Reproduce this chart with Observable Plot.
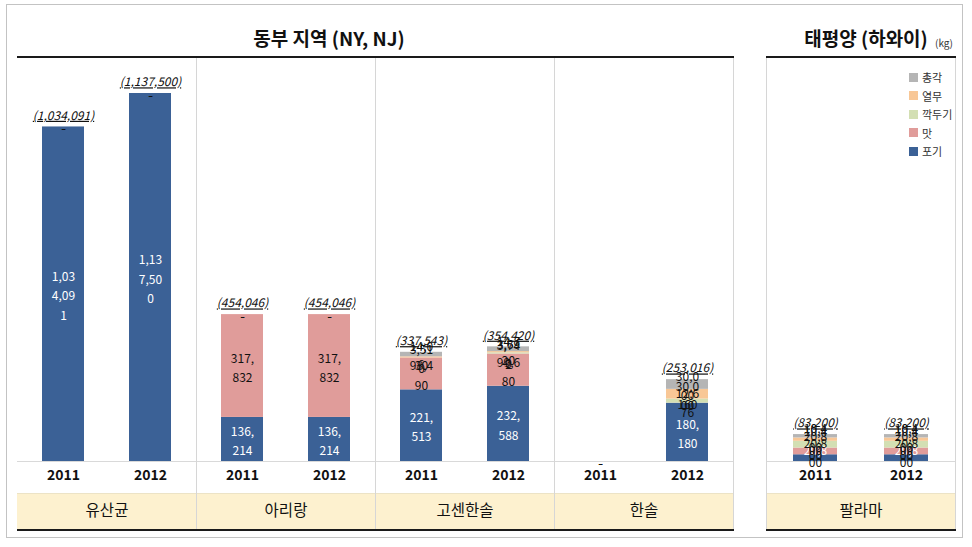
<!DOCTYPE html>
<html>
<head>
<meta charset="utf-8">
<script src="https://cdn.jsdelivr.net/npm/d3@7"></script>
<script src="https://cdn.jsdelivr.net/npm/@observablehq/plot@0.6"></script>
<style>
  html, body { margin: 0; padding: 0; background: #fff; }
  #root { position: relative; width: 972px; height: 547px; overflow: hidden; background: #fff;
          font-family: 'Noto Sans CJK KR', 'Noto Sans', sans-serif; }
  .abs { position: absolute; }
  .frame { left: 6px; top: 4px; width: 957px; height: 534px; border: 1px solid #c3c3c3; box-sizing: border-box; }
  .thick { height: 2px; background: #1a1a1a; }
  .band { background: #fdf1cf; border-top: 1px solid #ece3c6; box-sizing: border-box; }
  .vsep { width: 1px; background: #d6d6d6; }
  .title { font-weight: bold; font-size: 19px; color: #111; white-space: nowrap; transform: translate(-50%, -50%); }
  .kg { font-size: 10px; color: #333; }
  .leg { font-size: 11px; color: #333; white-space: nowrap; display: flex; align-items: center; }
  .leg span.sw { display: inline-block; width: 9px; height: 9px; margin-right: 4px; }
  text.total-label { text-decoration: underline; }
</style>
</head>
<body>
<div id="root"></div>
<script>
// ---- data ----
const brands  = ["유산균","유산균","아리랑","아리랑","고센한솔","고센한솔","한솔","한솔","팔라마","팔라마"];
const years   = ["2011","2012","2011","2012","2011","2012","2011","2012","2011","2012"];
const regions = ["동부","동부","동부","동부","동부","동부","동부","동부","태평양","태평양"];
const kinds   = ["포기","맛","깍두기","열무","총각"];
const pogi     = [1034091, 1137500, 136214, 136214, 221513, 232588, 0, 180180, 20800, 20800];
const mat      = [0, 0, 317832, 317832, 98490, 99680, 0, 160, 20800, 20800];
const kkakdugi = [0, 0, 0, 0, 0, 3742, 0, 12676, 20800, 20800];
const yeolmu   = [0, 0, 0, 0, 3510, 3690, 0, 30000, 10400, 10400];
const chonggak = [0, 0, 0, 0, 14030, 14720, 0, 30000, 10400, 10400];
const kindColors = ["#3b6196", "#e09c9a", "#d3dfb3", "#f8c796", "#b5b5b5"];
const eastBrands = ["유산균","아리랑","고센한솔","한솔"];
const pacificBrands = ["팔라마"];
const yearDomain = ["2011","2012"];
const eastTitle = "동부 지역 (NY, NJ)";
const pacificTitle = "태평양 (하와이)";
const unitLabel = "(kg)";

// ---- build rows ----
const seriesByKind = [pogi, mat, kkakdugi, yeolmu, chonggak];
const rows = [];
brands.forEach((b, i) => {
  kinds.forEach((k, j) => rows.push({brand: b, year: years[i], region: regions[i], kind: k, value: seriesByKind[j][i]}));
});
const totals = brands.map((b, i) => ({
  brand: b, year: years[i], region: regions[i],
  total: d3.sum(seriesByKind, s => s[i])
})).filter(d => d.total > 0);

const fmt = d3.format(",");
function segLabel(v) {
  if (!v) return "-";
  const s = fmt(v);
  const parts = [];
  for (let i = 0; i < s.length; i += 4) parts.push(s.slice(i, i + 4));
  return parts.join("\n");
}
const FONT = "'Noto Sans CJK KR', 'Noto Sans', sans-serif";
const ymax = d3.max(totals, d => d.total);

function panel(region, width, brandDomain) {
  const d = rows.filter(r => r.region === region);
  const t = totals.filter(r => r.region === region);
  const svg = Plot.plot({
    width, height: 473,
    marginTop: 36, marginBottom: 69, marginLeft: 0, marginRight: 0,
    style: {background: "transparent", fontFamily: FONT, overflow: "visible", color: "#111"},
    fx: {domain: brandDomain, padding: 0},
    x: {domain: yearDomain, paddingInner: 0.517, paddingOuter: 0.287},
    y: {domain: [0, ymax], axis: null},
    color: {domain: kinds, range: kindColors},
    marks: [
      Plot.ruleY([0], {stroke: "#d9d9d9"}),
      Plot.barY(d, {fx: "brand", x: "year", y: "value", z: "kind", fill: "kind", order: kinds}),
      Plot.text(d, Plot.stackY({
        fx: "brand", x: "year", y: "value", z: "kind", order: kinds,
        text: r => segLabel(r.value),
        fill: r => (r.kind === "포기" && r.value > 0) ? "white" : "#111",
        fontSize: 12, lineHeight: 1.6
      })),
      Plot.text(t, {fx: "brand", x: "year", y: "total", text: r => "(" + fmt(r.total) + ")",
        dy: -11, fontSize: 12, fontStyle: "italic", fill: "#111"}),
      Plot.axisX({anchor: "bottom", tickSize: 0, tickPadding: 9, fontSize: 14, fontWeight: "bold", label: null}),
      Plot.axisFx({anchor: "bottom", tickSize: 0, tickPadding: 43, fontSize: 15.5, label: null})
    ]
  });
  // underline the total labels
  d3.select(svg).selectAll("text").filter(function() {
    return /^\(\d/.test(this.textContent);
  }).classed("total-label", true).style("text-decoration", "underline");
  return svg;
}

// ---- layout ----
const root = document.getElementById("root");
function div(cls, css, html) {
  const e = document.createElement("div");
  e.className = "abs " + cls;
  Object.assign(e.style, css);
  if (html != null) e.textContent = html;
  root.appendChild(e);
  return e;
}
div("frame", {});
// bands (behind the charts)
div("band", {left: "17px", top: "493px", width: "716px", height: "37px"});
div("band", {left: "766px", top: "493px", width: "189px", height: "37px"});

const east = panel("동부", 716, eastBrands);
east.style.position = "absolute"; east.style.left = "17px"; east.style.top = "57px";
root.appendChild(east);
const pac = panel("태평양", 189, pacificBrands);
pac.style.position = "absolute"; pac.style.left = "766px"; pac.style.top = "57px";
root.appendChild(pac);

// separators
[196, 375, 554, 733, 766, 955].forEach(x => div("vsep", {left: x + "px", top: "57px", height: "473px"}));
// thick rules
div("thick", {left: "17px", top: "56px", width: "717px"});
div("thick", {left: "766px", top: "56px", width: "190px"});
div("thick", {left: "17px", top: "529px", width: "717px"});
div("thick", {left: "766px", top: "529px", width: "190px"});

// titles
div("title", {left: "329px", top: "37px"}, eastTitle);
div("title", {left: "866px", top: "37px"}, pacificTitle);
div("kg", {left: "935px", top: "35px"}, unitLabel);

// legend (top to bottom reverse stack order)
kinds.slice().reverse().forEach((k, i) => {
  const e = div("leg", {left: "909px", top: (69 + i * 18.6) + "px"});
  const sw = document.createElement("span");
  sw.className = "sw";
  sw.style.background = kindColors[kinds.indexOf(k)];
  e.appendChild(sw);
  e.appendChild(document.createTextNode(k));
});
</script>
</body>
</html>
